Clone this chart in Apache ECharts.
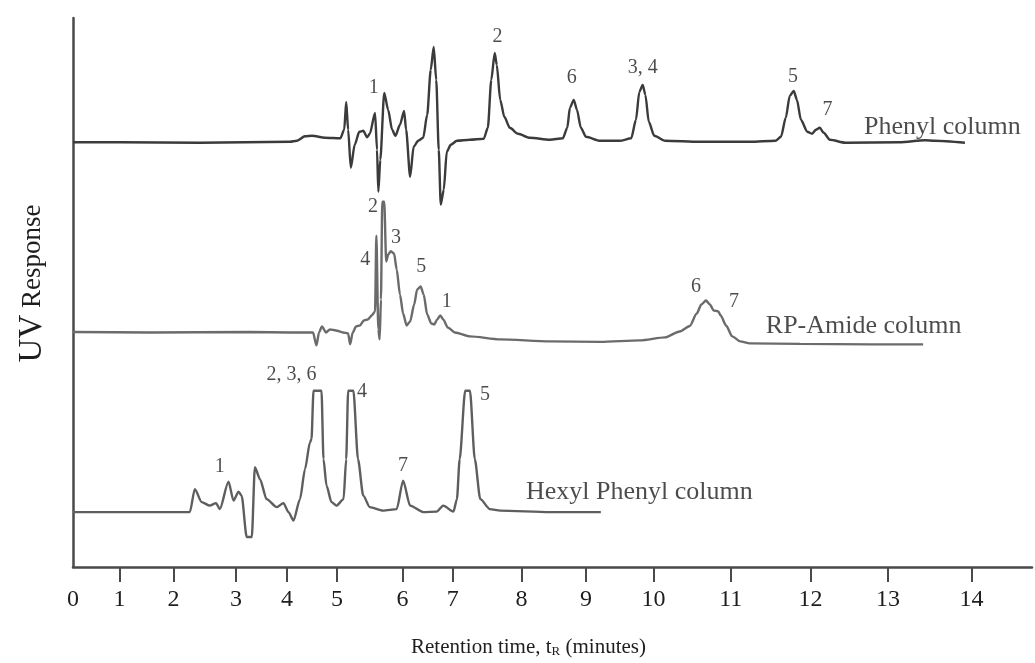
<!DOCTYPE html>
<html><head><meta charset="utf-8">
<script src="https://cdn.jsdelivr.net/npm/echarts@6/dist/echarts.min.js"></script>
<style>html,body{margin:0;padding:0;background:#fff}#c{width:1035px;height:663px}</style>
</head><body><div id="c"></div>
<script>
// ---- tick labels of the time axis (minutes) ----
const tickLabels = ['0','1','2','3','4','5','6','7','8','9','10','11','12','13','14'];
// the printed time axis is not uniform: where each minute tick sits along it
const axisStops = [0, 46.5, 100.6, 163, 214, 264, 329.6, 379.8, 448.5, 513, 580.5, 657.7, 737.5, 815, 898.6];
const axisEnd = 959;

// ---- Phenyl column trace (time in min, response in arbitrary units) ----
const phenylTime = [0,1.01,2.42,4.06,4.20,4.36,4.50,4.76,5.05,5.11,
  5.14,5.17,5.21,5.27,5.34,5.40,5.46,5.50,5.58,5.61,
  5.63,5.66,5.72,5.78,5.84,5.89,5.96,6.03,6.07,6.15,
  6.22,6.31,6.41,6.49,6.56,6.62,6.67,6.72,6.76,6.82,
  6.88,6.96,7.06,7.25,7.45,7.51,7.56,7.61,7.64,7.69,
  7.75,7.83,7.95,8.13,8.44,8.64,8.71,8.75,8.81,8.86,
  8.92,9.00,9.21,9.50,9.67,9.74,9.79,9.84,9.88,9.93,
  10.01,10.15,10.60,11.24,11.56,11.63,11.69,11.74,11.79,11.83,
  11.88,11.96,12.02,12.07,12.12,12.17,12.25,12.45,13.14,13.44,
  13.56,13.92];
const phenylResp = [0,0,-0.5,0.5,1.5,6,6.5,4.5,4,12.5,
  40.5,12.5,-25.5,-2.5,10.5,11.5,5,8.5,29.5,-7.5,
  -49.5,-17.5,49.5,32.5,12.5,6.5,17.5,31.5,12.5,-34.5,
  -4.5,1.5,4.5,27.5,72.5,95.5,62.5,-7.5,-62.5,-47.5,
  -9.5,-2.5,1.5,2.5,3.5,14.5,62.5,89.5,77.5,42.5,
  25.5,14.5,8.5,4.5,2.5,4,14.5,34.5,42.5,32.5,
  14.5,5.5,1.5,1.5,4,22.5,50.5,57.5,47.5,20.5,
  6.5,1.5,0.5,0.5,1.5,5.5,24.5,46.5,51.5,42.5,
  22.5,10.5,8.5,12.5,14.5,9.5,2.5,-0.5,0,2,
  1.5,-0.5];

// ---- RP-Amide column trace ----
const amideTime = [0,1.56,3.27,4.06,4.52,4.59,4.64,4.70,4.78,4.86,
  4.98,5.09,5.17,5.20,5.24,5.29,5.35,5.41,5.47,5.53,
  5.58,5.60,5.63,5.65,5.67,5.69,5.72,5.75,5.78,5.82,
  5.87,5.91,5.96,6.01,6.08,6.15,6.23,6.29,6.36,6.42,
  6.49,6.57,6.63,6.69,6.75,6.81,6.90,7.03,7.25,7.69,
  8.44,9.21,9.80,10.15,10.34,10.47,10.56,10.62,10.68,10.73,
  10.78,10.84,10.87,10.94,11.02,11.12,11.24,11.87,12.77,13.42];
const amideResp = [0,-0.5,0,-0.5,-0.5,-13.5,-0.5,5.5,-0.5,2.5,
  1.5,-0.5,-1.5,-12.5,-0.5,5.5,6.5,11.5,12.5,16.5,
  20.5,96.5,2.5,-7.5,32.5,130.5,130.5,70.5,77.5,81,
  78.5,62.5,37.5,18.5,6.5,10.5,27.5,42.5,45.5,37.5,
  17.5,8.5,7.5,12.5,16.5,12.5,4.5,-0.5,-4.5,-7.5,
  -9.5,-10,-8.5,-5.5,0.5,6,18.5,27.5,31.5,27.5,
  21.5,20.5,16.5,6.5,-4.5,-9.5,-11.5,-12,-12.5,-12.5];

// ---- Hexyl Phenyl column trace ----
const hexylTime = [0,2.21,2.26,2.34,2.45,2.58,2.68,2.74,2.88,2.96,
  3.05,3.11,3.21,3.31,3.37,3.47,3.60,3.80,3.93,4.03,
  4.13,4.26,4.36,4.46,4.49,4.53,4.69,4.73,4.79,4.89,
  4.99,5.10,5.14,5.17,5.25,5.32,5.40,5.50,5.70,5.91,
  6.01,6.15,6.41,6.68,6.81,7.01,7.06,7.10,7.18,7.25,
  7.32,7.40,7.54,7.69,8.44,9.22];
const hexylResp = [0,0,0,23,10,6.5,9,3,30.5,11.5,
  20.5,16.5,-25,-25,45,33,13,5,9,0,
  -8.5,13,43,70,73,121.5,121.5,53,26.5,10,
  6.5,13,53,121.5,121.5,53,16.5,5,1.5,3,
  31.5,6.5,0,0.5,6.5,0.5,13,53,121.5,121.5,
  53,13,3,1.5,0,0];

// vertical offsets of the stacked traces
const traceNames = ['Phenyl column', 'RP-Amide column', 'Hexyl Phenyl column'];
const traceOffsets = [425.5, 235.5, 55];

// ---- peak / trace annotations: [text, time (min), response incl. offset] ----
const phenylPeakLabels = [['1',5.56,480],['2',7.65,531],['6',8.78,490],['3, 4',9.84,500],['5',11.78,491],['7',12.22,458]];
const amidePeakLabels = [['2',5.55,361],['4',5.43,308],['3',5.90,330],['5',6.37,301],['1',6.88,266],['6',10.55,281],['7',11.04,266]];
const hexylPeakLabels = [['1',2.74,100],['2, 3, 6',4.09,193],['4',5.38,176],['7',6.01,101],['5',7.47,173]];
const traceLabelAt = [[12.69,441],[11.44,241],[8.07,75]];

function toAxis(t){
  let i = Math.min(Math.floor(t), axisStops.length - 2);
  return axisStops[i] + (t - i) * (axisStops[i+1] - axisStops[i]);
}
function traceData(time, resp, off){
  return time.map((t,i)=>[toAxis(t), off + resp[i]]);
}
const serif = "'Liberation Serif','Times New Roman',serif";

const lineBase = {type:'line', showSymbol:false, smooth:0.25, smoothMonotone:'x', silent:true, z:3};
const series = [
  Object.assign({}, lineBase, {name:traceNames[0], data:traceData(phenylTime, phenylResp, traceOffsets[0]), lineStyle:{color:'#3b3b3b', width:2.4}}),
  Object.assign({}, lineBase, {name:traceNames[1], data:traceData(amideTime, amideResp, traceOffsets[1]), lineStyle:{color:'#6b6b6b', width:2.4}}),
  Object.assign({}, lineBase, {name:traceNames[2], data:traceData(hexylTime, hexylResp, traceOffsets[2]), lineStyle:{color:'#5e5e5e', width:2.4}}),
  {
    type:'scatter', symbolSize:0, silent:true, z:5,
    data: phenylPeakLabels.concat(amidePeakLabels, hexylPeakLabels).map(p=>({name:p[0], value:[toAxis(p[1]), p[2]]})),
    label:{show:true, position:'inside', formatter:'{b}', fontFamily:serif, fontSize:20, color:'#1e1e1e'}
  },
  {
    type:'scatter', symbolSize:0, silent:true, z:5,
    data: traceNames.map((n,i)=>({name:n, value:[toAxis(traceLabelAt[i][0]), traceLabelAt[i][1]]})),
    label:{show:true, position:'right', distance:0, formatter:'{b}', fontFamily:serif, fontSize:26, color:'#1e1e1e'}
  }
];

const chart = echarts.init(document.getElementById('c'), null, {renderer:'canvas'});
chart.setOption({
  animation:false,
  backgroundColor:'#fff',
  grid:{left:73, right:3, top:18, bottom:95},
  xAxis:{
    type:'value', min:0, max:axisEnd,
    axisLine:{show:true, lineStyle:{color:'#4a4a4a', width:2.5}},
    axisTick:{show:true, customValues:axisStops.slice(1), length:15, lineStyle:{color:'#4a4a4a', width:2}},
    axisLabel:{customValues:axisStops, margin:21, fontFamily:serif, fontSize:24, color:'#1e1e1e',
      formatter:v=>{ const i = axisStops.findIndex(s=>Math.abs(s-v)<0.01); return i>=0 ? tickLabels[i] : ''; }},
    splitLine:{show:false},
    name:'{a|Retention time, t}{s|R}{a| (minutes)}',
    nameLocation:'middle', nameGap:70,
    nameTextStyle:{padding:[0,48,0,0], rich:{a:{fontFamily:serif, fontSize:21, color:'#1e1e1e'}, s:{fontFamily:serif, fontSize:13, color:'#1e1e1e', verticalAlign:'bottom', padding:[8,0,0,0]}}}
  },
  yAxis:{
    type:'value', min:0, max:550,
    axisLine:{show:true, lineStyle:{color:'#4a4a4a', width:2.5}},
    axisTick:{show:false}, axisLabel:{show:false}, splitLine:{show:false},
    name:'{u|UV}  {r|Response}',
    nameLocation:'middle', nameRotate:90, nameGap:24,
    nameTextStyle:{padding:[0,0,0,18], rich:{u:{fontFamily:serif, fontSize:33, color:'#1e1e1e'}, r:{fontFamily:serif, fontSize:27, color:'#1e1e1e'}}}
  },
  series:series
});
</script>
</body></html>
